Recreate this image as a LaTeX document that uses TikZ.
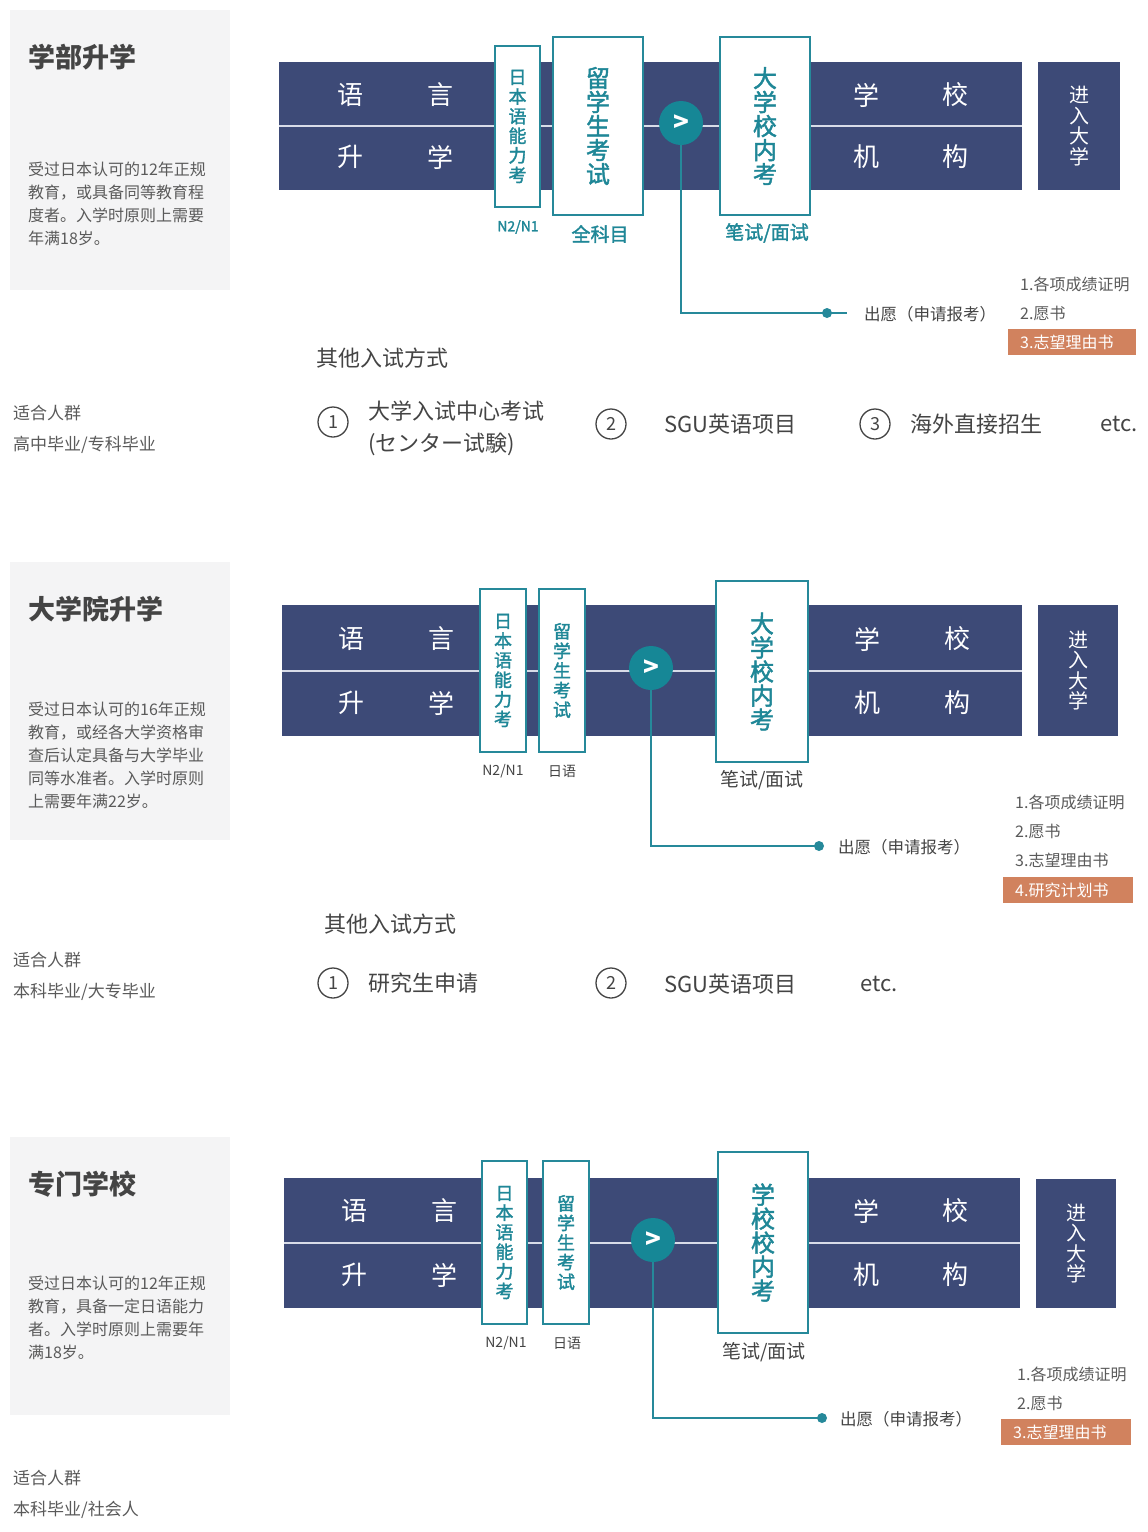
\documentclass[tikz,border=0pt]{standalone}
\usepackage{fontspec}
\setmainfont{Noto Sans CJK SC}
\newfontfamily\medfont{Noto Sans CJK SC}[FakeBold=1.8]
\definecolor{navy}{HTML}{3D4A77}
\definecolor{boxgray}{HTML}{F4F4F5}
\definecolor{tealb}{HTML}{26899A}
\definecolor{tealtxt}{HTML}{1F8797}
\definecolor{tealdark}{HTML}{168796}
\definecolor{orangeb}{HTML}{D1825E}
\definecolor{txtgray}{HTML}{5A5A5A}
\definecolor{darkgray}{HTML}{444444}
\definecolor{barlinec}{HTML}{D8DCE8}
\begin{document}
\begin{tikzpicture}[x=1pt,y=-1pt,
  graybox/.style={fill=boxgray,draw=none,inner sep=0,anchor=north west},
  titletxt/.style={anchor=west,inner sep=0,font=\fontsize{27pt}{30pt}\selectfont\bfseries,text=darkgray},
  desc/.style={anchor=west,align=left,inner sep=0,font=\fontsize{16pt}{23pt}\selectfont,text=txtgray},
  crowd/.style={anchor=west,inner sep=0,font=\fontsize{17pt}{20pt}\selectfont,text=txtgray},
  bar/.style={fill=navy,draw=none,inner sep=0,anchor=north west},
  barline/.style={draw=barlinec,line width=2pt},
  bartext/.style={text=white,font=\fontsize{26pt}{26pt}\selectfont,inner sep=0},
  exambox/.style={draw=tealb,line width=2.5pt,fill=white,inner sep=0,align=center,text=tealtxt},
  vsmall/.style={font=\fontsize{18pt}{19.6pt}\selectfont\medfont},
  vbig/.style={font=\fontsize{24pt}{24pt}\selectfont\medfont},
  gobox/.style={fill=navy,text=white,align=center,inner sep=0,font=\fontsize{20pt}{20.5pt}\selectfont},
  arrowc/.style={circle,fill=tealdark,text=white,minimum size=44pt,inner sep=0,font=\fontsize{26pt}{26pt}\selectfont\bfseries},
  conn/.style={draw=tealb,line width=2pt},
  dotn/.style={circle,fill=tealb,minimum size=10pt,inner sep=0},
  labteal/.style={inner sep=0,text=tealtxt,font=\fontsize{19pt}{20pt}\selectfont\medfont},
  labtealsm/.style={inner sep=0,text=tealtxt,font=\fontsize{14pt}{16pt}\selectfont\medfont},
  labgray/.style={inner sep=0,text=darkgray,font=\fontsize{19pt}{20pt}\selectfont},
  labgraysm/.style={inner sep=0,text=darkgray,font=\fontsize{14pt}{16pt}\selectfont},
  apply/.style={anchor=west,inner sep=0,text=darkgray,font=\fontsize{16.5pt}{18pt}\selectfont},
  listtxt/.style={anchor=west,inner sep=0,text=txtgray,font=\fontsize{16pt}{18pt}\selectfont},
  hilite/.style={anchor=west,fill=orangeb,text=white,inner xsep=12pt,inner ysep=0,minimum height=26pt,align=left,font=\fontsize{16pt}{18pt}\selectfont},
  other/.style={anchor=west,inner sep=0,text=darkgray,font=\fontsize{22pt}{24pt}\selectfont},
  opt/.style={anchor=west,inner sep=0,text=darkgray,font=\fontsize{22pt}{32pt}\selectfont,align=left},
  numc/.style={circle,draw=darkgray,line width=1.3pt,minimum size=30pt,inner sep=0,text=darkgray,font=\fontsize{18pt}{18pt}\selectfont}
]
\useasboundingbox (0,0) rectangle (1148,1532);
\fill[white] (0,0) rectangle (1148,1532);

% ================= Section 1 =================
\node[graybox,minimum width=220pt,minimum height=280pt] (g1) at (10,10) {};
\node[titletxt] (t1) at (28,57) {学部升学};
\node[desc] (d1) at (28,204) {受过日本认可的12年正规\\教育，或具备同等教育程\\度者。入学时原则上需要\\年满18岁。};
\node[crowd] (p1a) at (13,413) {适合人群};
\node[crowd] (p1b) at (13,445) {高中毕业/专科毕业};

\node[bar,minimum width=743pt,minimum height=128pt] (bar1) at (279,62) {};
\draw[barline] (bar1.west) -- (bar1.east);
\node[bartext] (b1a) at (350,95) {语};
\node[bartext] (b1b) at (440,95) {言};
\node[bartext] (b1c) at (350,157) {升};
\node[bartext] (b1d) at (440,157) {学};
\node[bartext] (b1e) at (866,95) {学};
\node[bartext] (b1f) at (955,95) {校};
\node[bartext] (b1g) at (866,157) {机};
\node[bartext] (b1h) at (955,157) {构};

\node[exambox,vsmall,minimum width=45pt,minimum height=161pt] (j1) at (517.5,126.5) {日\\本\\语\\能\\力\\考};
\node[exambox,vbig,minimum width=90pt,minimum height=178pt] (r1) at (598,126) {留\\学\\生\\考\\试};
\node[exambox,vbig,minimum width=90pt,minimum height=178pt] (u1) at (765,126) {大\\学\\校\\内\\考};
\node[gobox,minimum width=82pt,minimum height=128pt] (go1) at (1079,126) {进\\入\\大\\学};

\node[labtealsm] (l1a) at (518,227) {N2/N1};
\node[labteal] (l1b) at (600,234) {全科目};
\node[labteal] (l1c) at (767,233) {笔试/面试};

\node[dotn] (dt1) at (827,313) {};
\coordinate (e1) at (847,313);
\draw[conn] (681,123) |- (dt1.center) -- (e1);
\node[arrowc] (c1) at (681,123) {>};
\node[apply] (a1) at (864,314) {出愿（申请报考）};
\node[listtxt] (s1a) at (1020,284) {1.各项成绩证明};
\node[listtxt] (s1b) at (1020,313) {2.愿书};
\node[hilite,text width=104pt] (s1c) at (1008,342) {3.志望理由书};

\node[other] (o1) at (316,358) {其他入试方式};
\node[numc] (n11) at (333,422) {1};
\node[opt] (o11) at (368,428) {大学入试中心考试\\(センター试験)};
\node[numc] (n12) at (611,424) {2};
\node[other] (o12) at (664,424) {SGU英语项目};
\node[numc] (n13) at (875,424) {3};
\node[other] (o13) at (910,424) {海外直接招生};
\node[other] (o14) at (1100,424) {etc.};

% ================= Section 2 =================
\node[graybox,minimum width=220pt,minimum height=278pt] (g2) at (10,562) {};
\node[titletxt] (t2) at (28,609) {大学院升学};
\node[desc] (d2) at (28,755) {受过日本认可的16年正规\\教育，或经各大学资格审\\查后认定具备与大学毕业\\同等水准者。入学时原则\\上需要年满22岁。};
\node[crowd] (p2a) at (13,960) {适合人群};
\node[crowd] (p2b) at (13,992) {本科毕业/大专毕业};

\node[bar,minimum width=740pt,minimum height=131pt] (bar2) at (282,605) {};
\draw[barline] (bar2.west) -- (bar2.east);
\node[bartext] (b2a) at (351,639) {语};
\node[bartext] (b2b) at (441,639) {言};
\node[bartext] (b2c) at (351,703) {升};
\node[bartext] (b2d) at (441,703) {学};
\node[bartext] (b2e) at (867,639) {学};
\node[bartext] (b2f) at (957,639) {校};
\node[bartext] (b2g) at (867,703) {机};
\node[bartext] (b2h) at (957,703) {构};

\node[exambox,vsmall,minimum width=46pt,minimum height=163pt] (j2) at (503,670.5) {日\\本\\语\\能\\力\\考};
\node[exambox,vsmall,minimum width=46pt,minimum height=163pt] (r2) at (562,670.5) {留\\学\\生\\考\\试};
\node[exambox,vbig,minimum width=92pt,minimum height=181pt] (u2) at (762,671.5) {大\\学\\校\\内\\考};
\node[gobox,minimum width=80pt,minimum height=131pt] (go2) at (1078,670.5) {进\\入\\大\\学};

\node[labgraysm] (l2a) at (503,771) {N2/N1};
\node[labgraysm] (l2b) at (562,771) {日语};
\node[labgray] (l2c) at (762,780) {笔试/面试};

\node[dotn] (dt2) at (819,846) {};
\draw[conn] (651,668) |- (dt2.center);
\node[arrowc] (c2) at (651,668) {>};
\node[apply] (a2) at (838,847) {出愿（申请报考）};
\node[listtxt] (s2a) at (1015,802) {1.各项成绩证明};
\node[listtxt] (s2b) at (1015,831) {2.愿书};
\node[listtxt] (s2c) at (1015,860) {3.志望理由书};
\node[hilite,text width=106pt] (s2d) at (1003,890) {4.研究计划书};

\node[other] (o2) at (324,924) {其他入试方式};
\node[numc] (n21) at (333,983) {1};
\node[other] (o21) at (368,983) {研究生申请};
\node[numc] (n22) at (611,983) {2};
\node[other] (o22) at (664,984) {SGU英语项目};
\node[other] (o23) at (860,984) {etc.};

% ================= Section 3 =================
\node[graybox,minimum width=220pt,minimum height=278pt] (g3) at (10,1137) {};
\node[titletxt] (t3) at (28,1184) {专门学校};
\node[desc] (d3) at (28,1317.5) {受过日本认可的12年正规\\教育，具备一定日语能力\\者。入学时原则上需要年\\满18岁。};
\node[crowd] (p3a) at (13,1478) {适合人群};
\node[crowd] (p3b) at (13,1510) {本科毕业/社会人};

\node[bar,minimum width=736pt,minimum height=130pt] (bar3) at (284,1178) {};
\draw[barline] (bar3.west) -- (bar3.east);
\node[bartext] (b3a) at (354,1211) {语};
\node[bartext] (b3b) at (444,1211) {言};
\node[bartext] (b3c) at (354,1275) {升};
\node[bartext] (b3d) at (444,1275) {学};
\node[bartext] (b3e) at (866,1211) {学};
\node[bartext] (b3f) at (955,1211) {校};
\node[bartext] (b3g) at (866,1275) {机};
\node[bartext] (b3h) at (955,1275) {构};

\node[exambox,vsmall,minimum width=45pt,minimum height=163pt] (j3) at (504.5,1242.5) {日\\本\\语\\能\\力\\考};
\node[exambox,vsmall,minimum width=46pt,minimum height=163pt] (r3) at (566,1242.5) {留\\学\\生\\考\\试};
\node[exambox,vbig,minimum width=90pt,minimum height=181pt] (u3) at (763,1242.5) {学\\校\\校\\内\\考};
\node[gobox,minimum width=80pt,minimum height=129pt] (go3) at (1076,1243.5) {进\\入\\大\\学};

\node[labgraysm] (l3a) at (506,1343) {N2/N1};
\node[labgraysm] (l3b) at (567,1343) {日语};
\node[labgray] (l3c) at (764,1352) {笔试/面试};

\node[dotn] (dt3) at (822,1418) {};
\draw[conn] (653,1240) |- (dt3.center);
\node[arrowc] (c3) at (653,1240) {>};
\node[apply] (a3) at (840,1419) {出愿（申请报考）};
\node[listtxt] (s3a) at (1017,1374) {1.各项成绩证明};
\node[listtxt] (s3b) at (1017,1403) {2.愿书};
\node[hilite,text width=106pt] (s3c) at (1001,1432) {3.志望理由书};
\end{tikzpicture}
\end{document}
